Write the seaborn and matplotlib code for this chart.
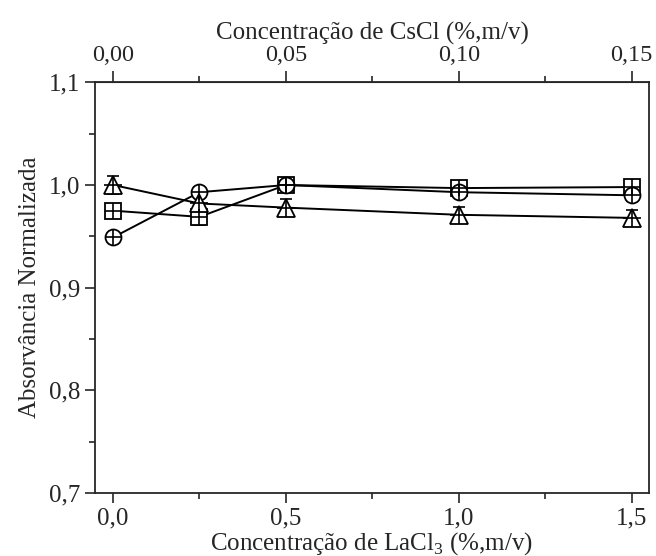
import numpy as np
import pandas as pd
import matplotlib
matplotlib.use('Agg')
import matplotlib.pyplot as plt
from matplotlib.ticker import FuncFormatter, MultipleLocator, FixedLocator
import seaborn as sns

# data
lacl3 = [0.0, 0.25, 0.5, 1.0, 1.5]
quadrado = [0.975, 0.969, 1.000, 0.997, 0.998]
circulo = [0.949, 0.993, 1.000, 0.993, 0.990]
triangulo = [1.000, 0.982, 0.978, 0.971, 0.968]
erro_quad = [0.004, 0.008, 0.003, 0.004, 0.005]
erro_circ = [0.004, 0.005, 0.003, 0.004, 0.006]
erro_tri = [0.009, 0.009, 0.008, 0.008, 0.008]
cscl_ticks = [0.0, 0.05, 0.10, 0.15]
cscl_minor = [0.025, 0.075, 0.125]

sns.set_style('ticks')
plt.rcParams['font.family'] = ['Liberation Serif', 'DejaVu Serif']
plt.rcParams['font.size'] = 18
plt.rcParams['mathtext.fontset'] = 'custom'
plt.rcParams['mathtext.rm'] = 'Liberation Serif'

fig = plt.figure(figsize=(6.56, 5.56), dpi=100)
ax = fig.add_axes([0.145, 0.113, 0.844, 0.739])

series = [
    (quadrado, erro_quad, 's', 11),
    (circulo, erro_circ, 'o', 11.5),
    (triangulo, erro_tri, '^', 12.5),
]
for vals, err, mk, ms in series:
    df = pd.DataFrame({'x': lacl3, 'y': vals})
    ax.errorbar(lacl3, vals, yerr=err, fmt='none', ecolor='black',
                elinewidth=1.2, capsize=4, capthick=1.2, zorder=2)
    sns.lineplot(data=df, x='x', y='y', ax=ax, color='black', linewidth=1.4,
                 marker=mk, markersize=ms, markerfacecolor='white',
                 markeredgecolor='black', markeredgewidth=1.3, zorder=3)
    ax.plot(lacl3, vals, linestyle='none', marker='+', markersize=ms,
            color='black', markeredgewidth=1.2, zorder=4)

ax.set_xlim(-0.052, 1.55)
ax.set_ylim(0.7, 1.1)
ax.xaxis.set_major_locator(FixedLocator([0.0, 0.5, 1.0, 1.5]))
ax.xaxis.set_minor_locator(FixedLocator([0.25, 0.75, 1.25]))
ax.yaxis.set_major_locator(MultipleLocator(0.1))
ax.yaxis.set_minor_locator(MultipleLocator(0.05))
ax.xaxis.set_major_formatter(FuncFormatter(lambda v, p: f'{v:.1f}'.replace('.', ',')))
ax.yaxis.set_major_formatter(FuncFormatter(lambda v, p: f'{v:.1f}'.replace('.', ',')))
ax.tick_params(which='major', direction='out', length=7, width=1.2, labelsize=18, right=False)
ax.tick_params(which='minor', direction='out', length=4, width=1.2, right=False)
for s in ax.spines.values():
    s.set_visible(True)
    s.set_linewidth(1.3)

ax.set_xlabel(r'Concentração de LaCl$_\mathregular{3}$ (%,m/v)', fontsize=18, labelpad=0)
ax.set_ylabel('Absorvância Normalizada', fontsize=18, labelpad=6)

top = ax.secondary_xaxis('top', functions=(lambda v: v / 10, lambda v: v * 10))
top.xaxis.set_major_locator(FixedLocator(cscl_ticks))
top.xaxis.set_minor_locator(FixedLocator(cscl_minor))
top.xaxis.set_major_formatter(FuncFormatter(lambda v, p: f'{v:.2f}'.replace('.', ',')))
top.tick_params(which='major', direction='out', length=8, width=1.2, labelsize=17.5)
top.tick_params(which='minor', direction='out', length=4, width=1.2)
top.set_xlabel('Concentração de CsCl (%,m/v)', fontsize=18, labelpad=4)

fig.savefig('out.png', dpi=100)
